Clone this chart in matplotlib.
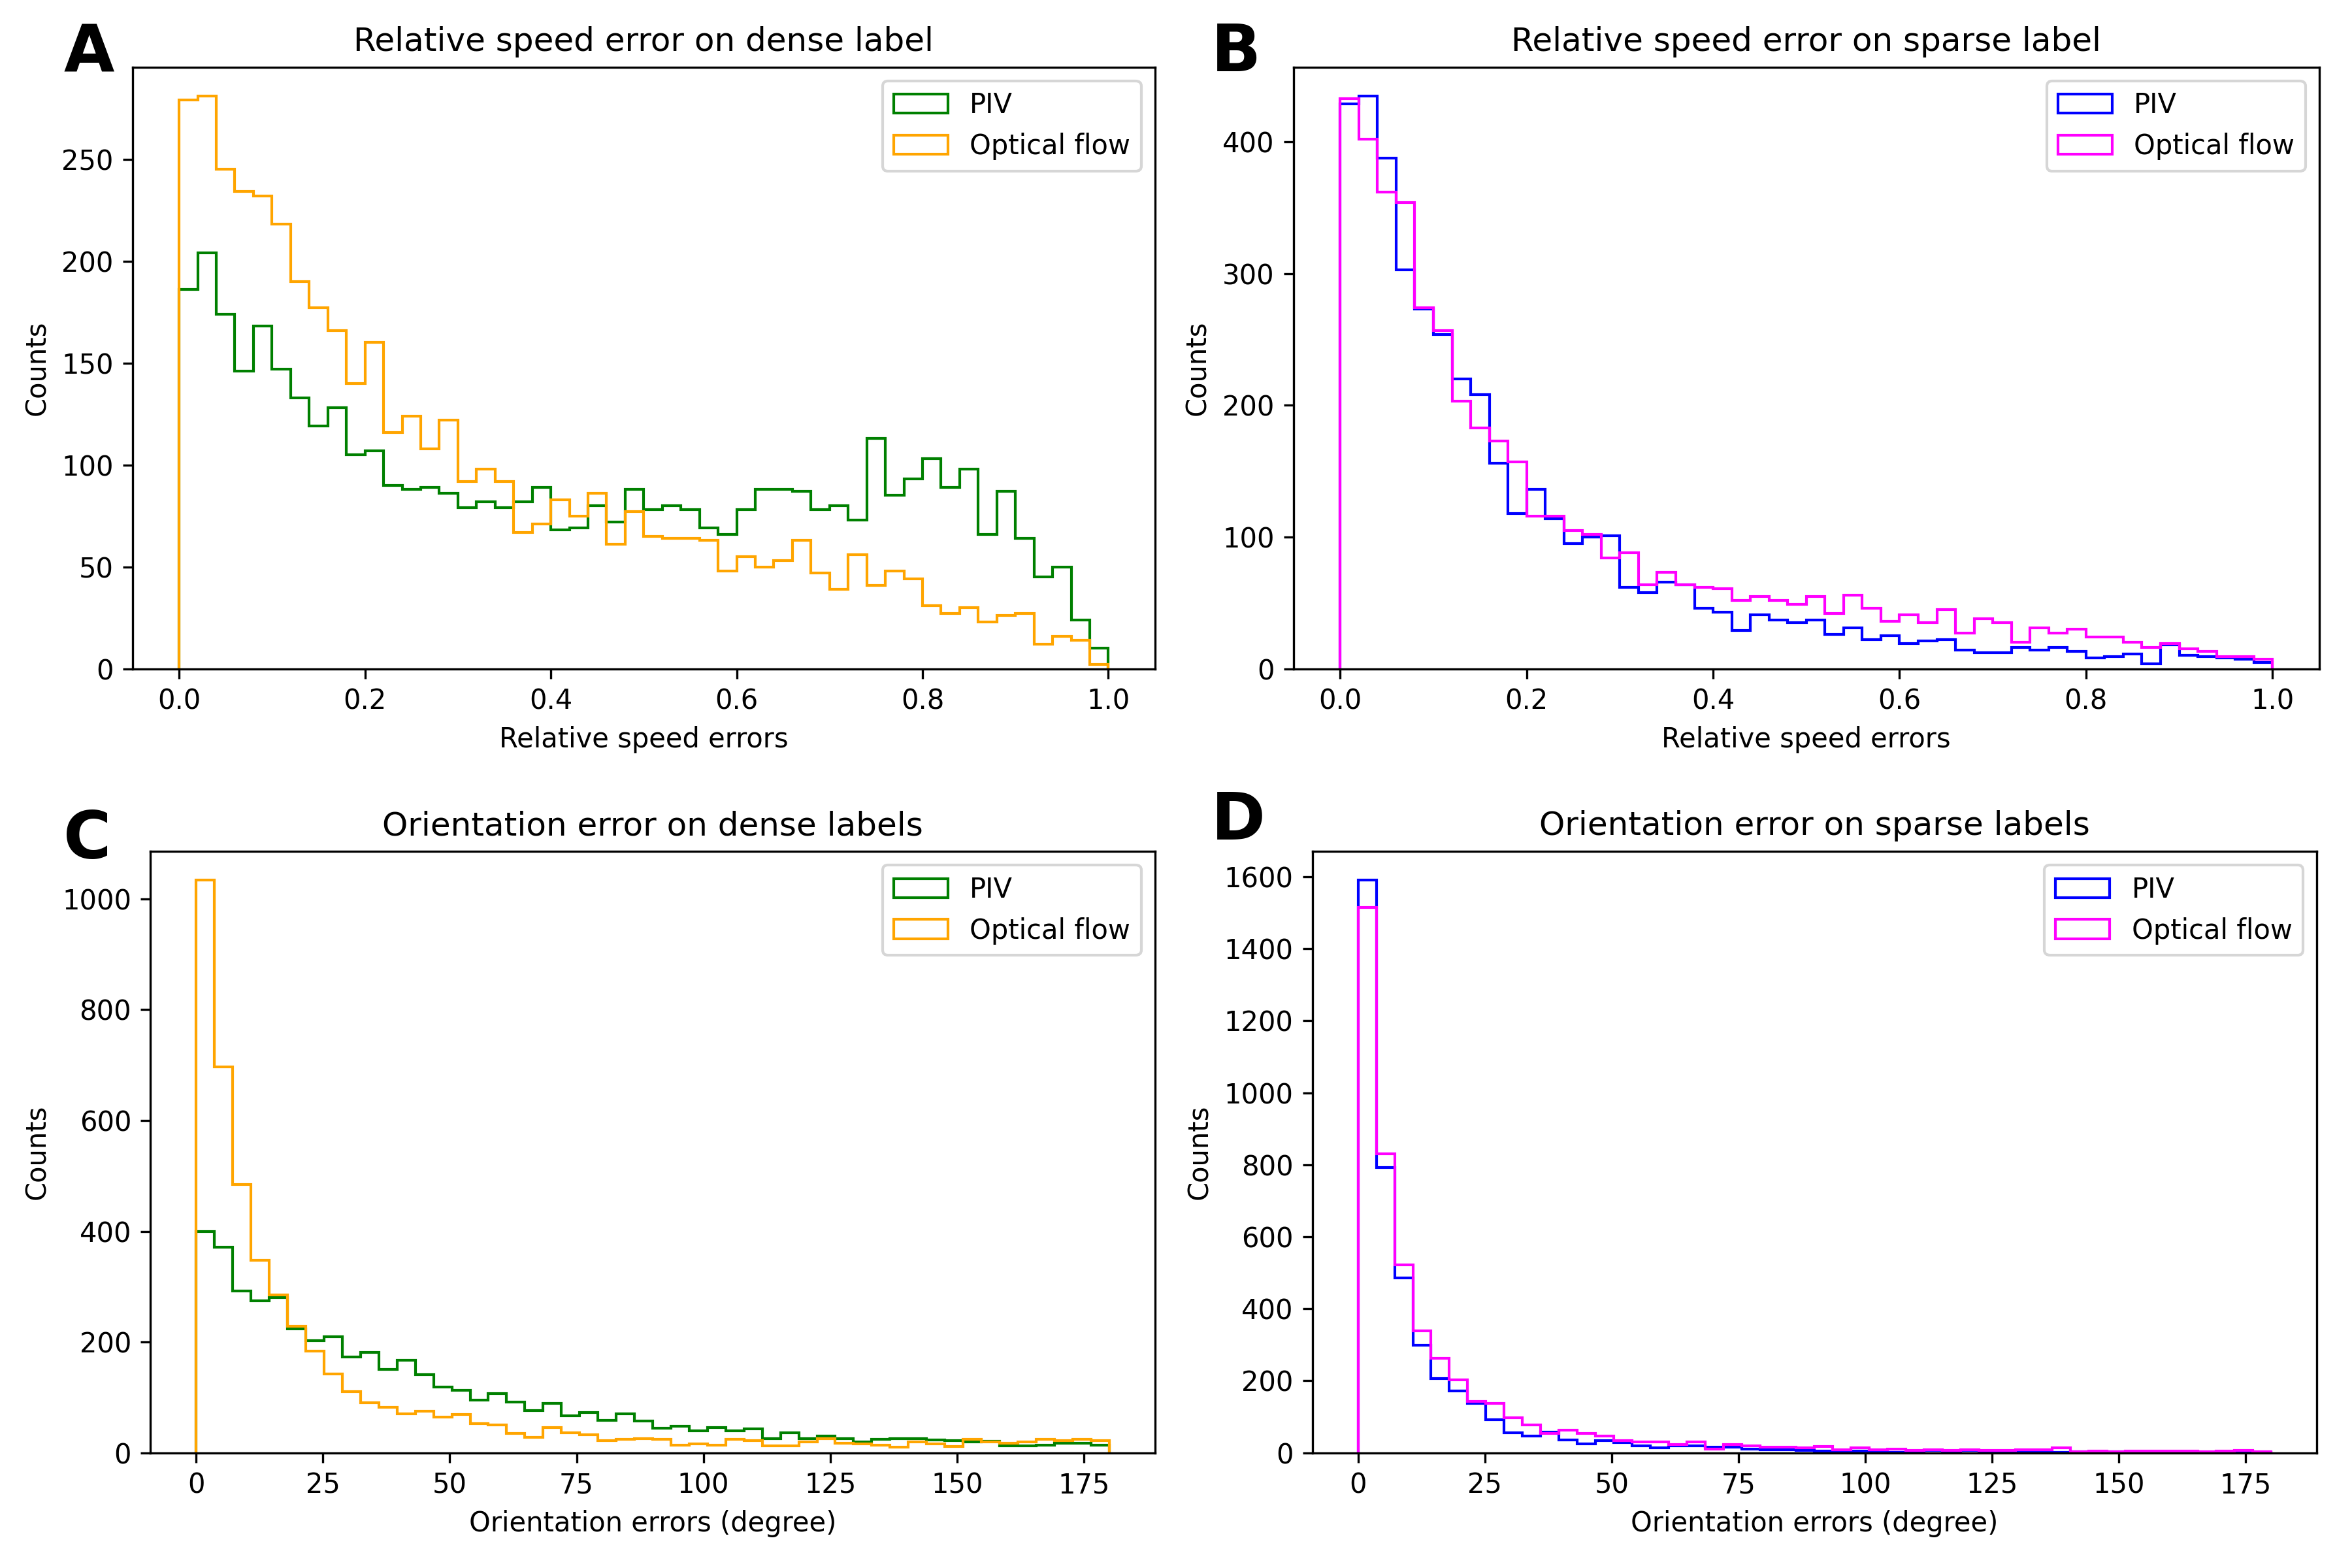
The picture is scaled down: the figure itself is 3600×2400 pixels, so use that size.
import numpy as np
import matplotlib
matplotlib.use("Agg")
import matplotlib.pyplot as plt

# ---- data (counts per bin, 50 bins each) ----
speed_edges_range = (0.0, 1.0)
orient_edges_range = (0.0, 180.0)
n_bins = 50

piv_speed_dense = [186, 204, 174, 146, 168, 147, 133, 119, 128, 105,
                   107, 90, 88, 89, 86, 79, 82, 79, 82, 89,
                   68, 69, 80, 72, 88, 78, 80, 78, 69, 66,
                   78, 88, 88, 87, 78, 80, 73, 113, 85, 93,
                   103, 89, 98, 66, 87, 64, 45, 50, 24, 10]
of_speed_dense = [279, 281, 245, 234, 232, 218, 190, 177, 166, 140,
                  160, 116, 124, 108, 122, 92, 98, 92, 67, 71,
                  83, 75, 86, 61, 77, 65, 64, 64, 63, 48,
                  55, 50, 53, 63, 47, 39, 56, 41, 48, 44,
                  31, 27, 30, 23, 26, 27, 12, 16, 14, 2]

piv_speed_sparse = [429, 435, 388, 303, 273, 254, 220, 208, 156, 118,
                    136, 114, 95, 100, 101, 62, 58, 66, 64, 46,
                    43, 29, 41, 37, 35, 37, 26, 31, 22, 25,
                    19, 21, 22, 14, 12, 12, 16, 14, 16, 13,
                    8, 9, 11, 4, 18, 10, 9, 8, 7, 5]
of_speed_sparse = [433, 402, 362, 354, 274, 257, 203, 183, 173, 157,
                   116, 116, 105, 102, 84, 88, 64, 73, 64, 62,
                   61, 52, 55, 52, 49, 55, 42, 56, 46, 36,
                   41, 35, 45, 27, 38, 35, 20, 31, 27, 30,
                   24, 24, 20, 16, 19, 15, 13, 9, 9, 7]

piv_orient_dense = [400, 371, 292, 274, 280, 224, 203, 209, 173, 181,
                    151, 167, 141, 119, 113, 95, 107, 92, 76, 89,
                    67, 73, 59, 70, 57, 44, 48, 40, 45, 40,
                    43, 26, 36, 25, 30, 26, 20, 24, 26, 25,
                    23, 22, 20, 21, 13, 12, 14, 17, 17, 14]
of_orient_dense = [1034, 697, 484, 348, 285, 228, 183, 142, 110, 90,
                   82, 70, 75, 64, 69, 53, 50, 35, 28, 45,
                   36, 33, 22, 24, 26, 24, 14, 16, 14, 24,
                   22, 12, 12, 20, 26, 17, 16, 14, 10, 20,
                   16, 11, 24, 20, 17, 20, 24, 22, 24, 22]

piv_orient_sparse = [1591, 792, 485, 298, 207, 171, 138, 92, 55, 47,
                     57, 36, 24, 33, 29, 19, 14, 20, 19, 15,
                     16, 11, 9, 9, 7, 4, 2, 5, 2, 1,
                     1, 7, 1, 6, 1, 2, 1, 1, 1, 3,
                     2, 2, 2, 2, 1, 2, 1, 3, 2, 1]
of_orient_sparse = [1515, 830, 522, 339, 262, 202, 143, 138, 97, 77,
                    54, 63, 53, 47, 33, 30, 30, 23, 30, 10,
                    22, 19, 15, 15, 14, 18, 9, 13, 8, 11,
                    7, 9, 7, 8, 7, 6, 8, 9, 14, 3,
                    5, 3, 4, 4, 4, 4, 2, 5, 7, 3]

series_labels = ["PIV", "Optical flow"]
titles = ["Relative speed error on dense label",
          "Relative speed error on sparse label",
          "Orientation error on dense labels",
          "Orientation error on sparse labels"]
xlabels = ["Relative speed errors", "Relative speed errors",
           "Orientation errors (degree)", "Orientation errors (degree)"]
panel_letters = ["A", "B", "C", "D"]

fig = plt.figure(figsize=(12, 8), dpi=300)

positions = [
    [0.0564, 0.5735, 0.4346, 0.3836],
    [0.5500, 0.5735, 0.4360, 0.3836],
    [0.0640, 0.0735, 0.4270, 0.3835],
    [0.5580, 0.0735, 0.4270, 0.3835],
]
letter_pos = [(0.027, 0.966), (0.515, 0.966), (0.027, 0.464), (0.515, 0.476)]

panels = [
    (piv_speed_dense, of_speed_dense, speed_edges_range, ("green", "orange")),
    (piv_speed_sparse, of_speed_sparse, speed_edges_range, ("blue", "magenta")),
    (piv_orient_dense, of_orient_dense, orient_edges_range, ("green", "orange")),
    (piv_orient_sparse, of_orient_sparse, orient_edges_range, ("blue", "magenta")),
]

for i, (a, b, rng, cols) in enumerate(panels):
    ax = fig.add_axes(positions[i])
    edges = np.linspace(rng[0], rng[1], n_bins + 1)
    centers = 0.5 * (edges[:-1] + edges[1:])
    ax.hist(centers, bins=edges, weights=a, histtype="step", color=cols[0],
            label=series_labels[0])
    ax.hist(centers, bins=edges, weights=b, histtype="step", color=cols[1],
            label=series_labels[1])
    ax.set_title(titles[i])
    ax.set_xlabel(xlabels[i])
    ax.set_ylabel("Counts")
    ax.legend(loc="upper right")
    fig.text(letter_pos[i][0], letter_pos[i][1], panel_letters[i],
             fontsize=24, fontweight="bold", ha="left", va="center")

fig.savefig("out.png", dpi=300)
